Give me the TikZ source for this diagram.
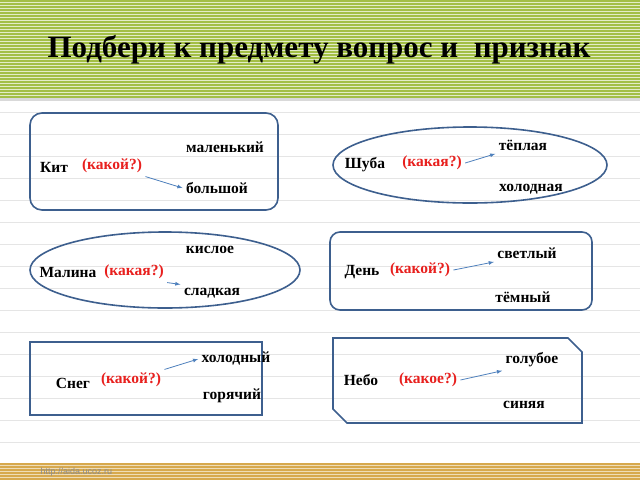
\documentclass[tikz,border=0pt]{standalone}
\usepackage{fontspec}
\setmainfont{Liberation Serif}
\newfontfamily\urlfont{Liberation Sans}
\begin{document}
\begin{tikzpicture}[x=1pt,y=-1pt,
  shp/.style={draw=frame,line width=1.6pt},
  w/.style={font=\bfseries\fontsize{15.5}{17}\selectfont},
  q/.style={font=\bfseries\fontsize{15.5}{17}\selectfont,text=qred},
  ar/.style={-latex,draw=arr,line width=0.8pt}]
\definecolor{frame}{HTML}{3D5F8E}
\definecolor{qred}{HTML}{E8201E}
\definecolor{arr}{HTML}{4F81BD}
\definecolor{hgreen}{HTML}{A3BF46}
\definecolor{tan}{HTML}{D7A94E}
\useasboundingbox (0,0) rectangle (640,480);
\fill[white] (0,0) rectangle (640,480);
\foreach \y in {112,134,156,178,200,222,244,266,288,310,332,354,376,398,420,442} \draw[black!10,line width=0.8pt] (0,\y)--(640,\y);
\fill[hgreen] (0,0) rectangle (640,98);
\foreach \y in {2,5,...,96} \draw[white!70!hgreen,line width=0.6pt] (0,\y)--(640,\y);
\fill[black!15] (0,98) rectangle (640,101);
\fill[tan] (0,463) rectangle (640,480);
\foreach \y in {465,468,...,479} \draw[white!60!tan,line width=0.5pt] (0,\y)--(640,\y);
\node[font=\bfseries\fontsize{31}{34}\selectfont] (title) at (319,50) {Подбери к предмету вопрос и\ \ признак};
\node[font=\urlfont\fontsize{9}{10}\selectfont,text=black!45,anchor=west] (url) at (37,472) {http://aida.ucoz.ru};
% shapes
\draw[shp,rounded corners=12pt] (30,113) rectangle (278,210);
\draw[shp] (470,165) ellipse [x radius=137,y radius=38];
\draw[shp] (165,270) ellipse [x radius=135,y radius=38];
\draw[shp,rounded corners=10pt] (330,232) rectangle (592,310);
\draw[shp] (30,342) rectangle (262,415);
\draw[shp] (333,338) -- (568,338) -- (582,352) -- (582,423) -- (347,423) -- (333,409) -- cycle;
% box1
\node[w] (a1) at (225,147) {маленький};
\node[w] (a0) at (54,167) {Кит};
\node[q] (aq) at (112,166) {(какой?)};
\node[w] (a2) at (217,188) {большой};
\draw[ar] (aq.south east) -- (a2.west);
% box2
\node[w] (b1) at (523,145) {тёплая};
\node[w] (b0) at (365,165) {Шуба};
\node[q] (bq) at (432,163) {(какая?)};
\node[w] (b2) at (531,189) {холодная};
\draw[ar] (bq.east) -- (b1.south west);
% box3
\node[w] (c1) at (210,250) {кислое};
\node[w] (c0) at (68,272) {Малина};
\node[q] (cq) at (134,272) {(какая?)};
\node[w] (c2) at (212,293) {сладкая};
\draw[ar] (cq.south east) -- (c2.north west);
% box4
\node[w] (d1) at (527,253) {светлый};
\node[w] (d0) at (362,272) {День};
\node[q] (dq) at (420,270) {(какой?)};
\node[w] (d2) at (523,297) {тёмный};
\draw[ar] (dq.east) -- (d1.south west);
% box5
\node[w] (e1) at (236,359) {холодный};
\node[w] (e0) at (73,383) {Снег};
\node[q] (eq) at (131,380) {(какой?)};
\node[w] (e2) at (232,396) {горячий};
\draw[ar] (eq.north east) -- (e1.west);
% box6
\node[w] (f1) at (532,360) {голубое};
\node[w] (f0) at (361,380) {Небо};
\node[q] (fq) at (428,380) {(какое?)};
\node[w] (f2) at (524,405) {синяя};
\draw[ar] (fq.east) -- (f1.south west);
\end{tikzpicture}
\end{document}
